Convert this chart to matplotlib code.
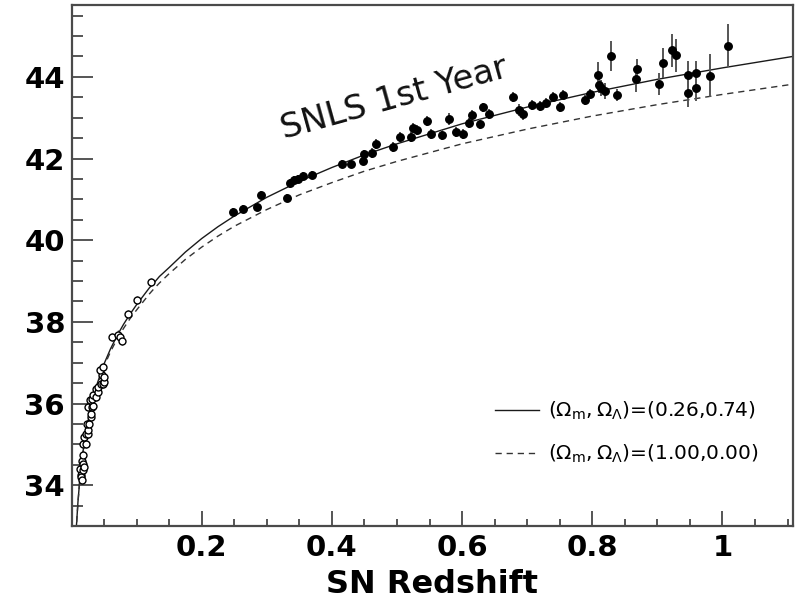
import matplotlib
matplotlib.use("Agg")
import matplotlib.pyplot as plt
from matplotlib.ticker import MultipleLocator, FixedLocator, FixedFormatter

# ---------------- data ----------------
# SNLS first-year supernovae (filled points)
snls_z = [0.248, 0.263, 0.285, 0.291, 0.331, 0.336, 0.342, 0.348, 0.355, 0.369,
          0.415, 0.429, 0.448, 0.449, 0.461, 0.468, 0.494, 0.504, 0.521, 0.525,
          0.530, 0.546, 0.553, 0.569, 0.580, 0.591, 0.602, 0.610, 0.615, 0.627,
          0.632, 0.642, 0.678, 0.687, 0.693, 0.707, 0.719, 0.729, 0.740, 0.750,
          0.755, 0.789, 0.797, 0.809, 0.810, 0.814, 0.819, 0.828, 0.838, 0.867,
          0.868, 0.903, 0.908, 0.923, 0.929, 0.947, 0.947, 0.959, 0.959, 0.981,
          1.008]
snls_mu = [40.69, 40.77, 40.81, 41.10, 41.04, 41.39, 41.47, 41.50, 41.57, 41.59,
           41.86, 41.86, 41.94, 42.12, 42.14, 42.35, 42.28, 42.53, 42.53, 42.74,
           42.69, 42.91, 42.60, 42.57, 42.96, 42.65, 42.61, 42.87, 43.06, 42.84,
           43.25, 43.10, 43.50, 43.18, 43.10, 43.31, 43.28, 43.36, 43.51, 43.26,
           43.55, 43.44, 43.58, 44.04, 43.80, 43.72, 43.66, 44.51, 43.55, 43.94,
           44.19, 43.82, 44.34, 44.65, 44.53, 44.04, 43.61, 44.10, 43.72, 44.03,
           44.76]
snls_err = [0.10, 0.10, 0.10, 0.10, 0.10, 0.10, 0.10, 0.10, 0.10, 0.10,
            0.10, 0.10, 0.10, 0.10, 0.12, 0.12, 0.12, 0.12, 0.12, 0.12,
            0.12, 0.12, 0.12, 0.12, 0.15, 0.12, 0.12, 0.12, 0.12, 0.12,
            0.12, 0.12, 0.12, 0.15, 0.15, 0.12, 0.12, 0.12, 0.12, 0.12,
            0.12, 0.12, 0.12, 0.33, 0.20, 0.20, 0.20, 0.37, 0.15, 0.30,
            0.25, 0.27, 0.36, 0.40, 0.40, 0.35, 0.35, 0.30, 0.30, 0.52,
            0.53]

# Nearby supernovae (open points)
near_z = [0.0130, 0.0141, 0.0146, 0.0157, 0.0157, 0.0172, 0.0180, 0.0172, 0.0192, 0.0181,
          0.0223, 0.0192, 0.0223, 0.0250, 0.0258, 0.0233, 0.0274, 0.0295, 0.0300, 0.0258,
          0.0310, 0.0326, 0.0284, 0.0318, 0.0335, 0.0376, 0.0376, 0.0400, 0.0412, 0.0450,
          0.0489, 0.0500, 0.0464, 0.0504, 0.0438, 0.0489, 0.0617, 0.0719, 0.0745, 0.0780,
          0.0873, 0.1000, 0.1216]
near_mu = [34.40, 34.24, 34.20, 34.12, 34.60, 34.36, 34.52, 34.73, 34.44, 35.01,
           35.00, 35.18, 35.26, 35.26, 35.34, 35.50, 35.50, 35.67, 35.75, 35.91,
           35.91, 35.95, 36.08, 36.12, 36.20, 36.16, 36.36, 36.28, 36.40, 36.49,
           36.49, 36.52, 36.69, 36.65, 36.81, 36.89, 37.63, 37.69, 37.63, 37.53,
           38.20, 38.53, 38.98]
near_err = [0.10] * len(near_z)

# Model curves
curve_z = [0.007, 0.0075, 0.01, 0.0125, 0.015, 0.0175, 0.02, 0.025, 0.03, 0.035,
           0.04, 0.05, 0.06, 0.07, 0.08, 0.09, 0.10, 0.11, 0.12, 0.125,
           0.135, 0.15, 0.175, 0.20, 0.225, 0.25, 0.30, 0.35, 0.40, 0.45,
           0.50, 0.60, 0.70, 0.80, 0.90, 1.00, 1.108]
lcdm_mu = [32.83, 32.98, 33.60, 34.08, 34.47, 34.79, 35.07, 35.53, 35.91, 36.23,
           36.51, 36.97, 37.34, 37.66, 37.94, 38.19, 38.42, 38.63, 38.84, 38.92,
           39.11, 39.33, 39.71, 40.04, 40.33, 40.59, 41.05, 41.44, 41.78, 42.09,
           42.36, 42.85, 43.26, 43.62, 43.94, 44.22, 44.50]
eds_mu = [32.82, 32.97, 33.59, 34.06, 34.45, 34.77, 35.05, 35.50, 35.87, 36.19,
          36.46, 36.91, 37.27, 37.58, 37.84, 38.08, 38.29, 38.49, 38.69, 38.78,
          38.95, 39.18, 39.53, 39.83, 40.10, 40.34, 40.75, 41.11, 41.41, 41.69,
          41.93, 42.36, 42.72, 43.04, 43.32, 43.57, 43.82]

x_ticks = [0.2, 0.4, 0.6, 0.8, 1.0]
x_tick_labels = ["0.2", "0.4", "0.6", "0.8", "1"]
y_ticks = [34, 36, 38, 40, 42, 44]
y_tick_labels = ["34", "36", "38", "40", "42", "44"]

label_lcdm = r"$(\Omega_{\rm m},\Omega_{\Lambda})$=(0.26,0.74)"
label_eds = r"$(\Omega_{\rm m},\Omega_{\Lambda})$=(1.00,0.00)"

# ---------------- figure ----------------
plt.rcParams["font.family"] = ["DejaVu Sans"]
plt.rcParams["mathtext.fontset"] = "dejavusans"

fig = plt.figure(figsize=(8.03, 6.03), dpi=100)
ax = fig.add_axes([72 / 803, 1 - 526 / 603, (793 - 72) / 803, (526 - 5) / 603])

ln1, = ax.plot(curve_z, lcdm_mu, color="#1a1a1a", lw=1.0, zorder=2)
ln2, = ax.plot(curve_z, eds_mu, color="#333333", lw=1.0, ls=(0, (4.5, 3.5)), zorder=2)

ax.errorbar(near_z, near_mu, yerr=near_err, fmt="o", ms=5, mfc="white", mec="black",
            mew=1.0, ecolor="#444444", elinewidth=1.0, capsize=0, zorder=3)
ax.errorbar(snls_z, snls_mu, yerr=snls_err, fmt="o", ms=5.4, mfc="black", mec="black",
            ecolor="#555555", elinewidth=1.4, capsize=0, zorder=4)

ax.set_xlim(0.0008, 1.1083)
ax.set_ylim(33.0, 45.76)

ax.xaxis.set_major_locator(FixedLocator(x_ticks))
ax.xaxis.set_major_formatter(FixedFormatter(x_tick_labels))
ax.xaxis.set_minor_locator(MultipleLocator(0.05))
ax.yaxis.set_major_locator(FixedLocator(y_ticks))
ax.yaxis.set_major_formatter(FixedFormatter(y_tick_labels))
ax.yaxis.set_minor_locator(MultipleLocator(0.5))

ax.tick_params(axis="both", which="both", direction="in", color="#555555",
               top=False, right=False)
ax.tick_params(axis="y", which="major", length=15, width=1.4, pad=5)
ax.tick_params(axis="y", which="minor", length=8, width=1.4)
ax.tick_params(axis="x", which="major", length=11, width=1.4, pad=6)
ax.tick_params(axis="x", which="minor", length=5, width=1.4)

for lab in ax.get_xticklabels() + ax.get_yticklabels():
    lab.set_fontsize(21)
    lab.set_fontweight("bold")

for sp in ax.spines.values():
    sp.set_color("#4a4a4a")
    sp.set_linewidth(1.6)

ax.set_xlabel("SN Redshift", fontsize=23, fontweight="bold", labelpad=5)

ax.text(0.4995, 43.24, "SNLS 1st Year", fontsize=24.5, rotation=15.5,
        rotation_mode="anchor", ha="center", va="baseline", color="#111111")

leg = ax.legend([ln1, ln2], [label_lcdm, label_eds], loc="center left",
                bbox_to_anchor=(495 / 803, 1 - 432.5 / 603),
                bbox_transform=fig.transFigure, frameon=False, fontsize=14.5,
                handlelength=2.2, handletextpad=0.45, labelspacing=1.0, borderpad=0,
                borderaxespad=0)

fig.savefig("out.png", dpi=100)
